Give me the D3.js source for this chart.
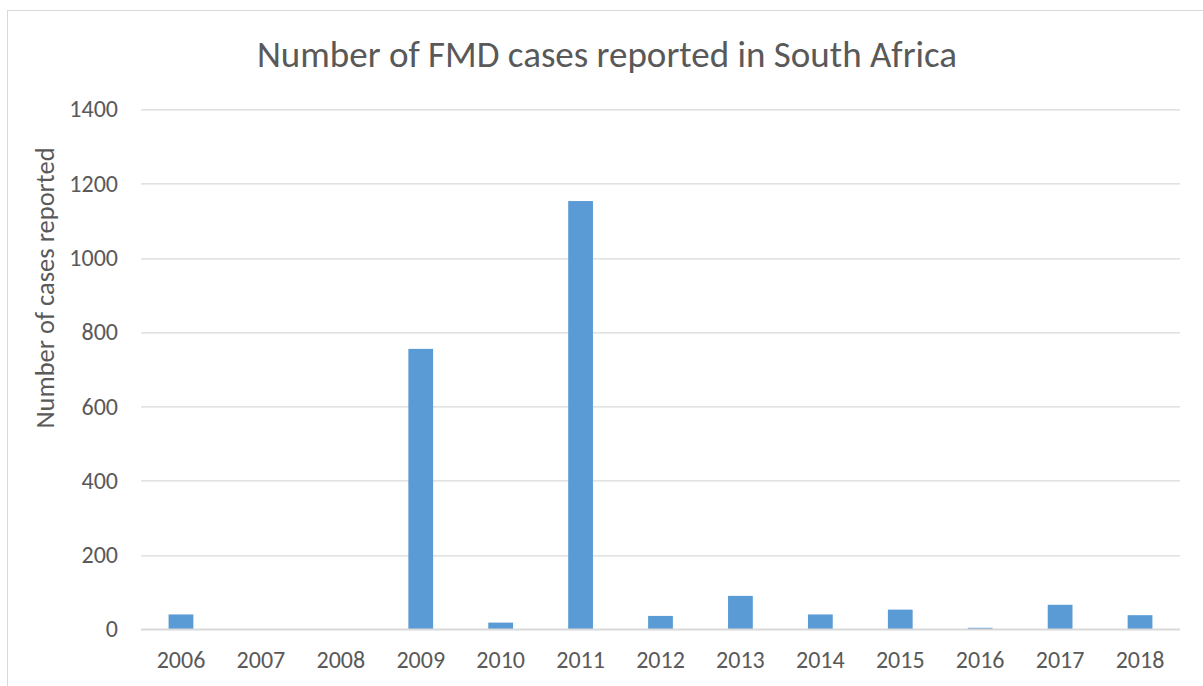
<!DOCTYPE html>
<html>
<head>
<meta charset="utf-8">
<script src="https://cdn.jsdelivr.net/npm/d3@7"></script>
<style>
  body { margin: 0; background: #fff; }
  svg text { font-family: Carlito, "Open Sans", "Liberation Sans", sans-serif; fill: #595959; }
</style>
</head>
<body>
<div id="chart-container"></div>
<script>
const years = ['2006', '2007', '2008', '2009', '2010', '2011', '2012', '2013', '2014', '2015', '2016', '2017', '2018'];
const cases = [40, 0, 0, 755, 18, 1153, 36, 90, 40, 53, 4, 66, 38];
const yTicks = [0, 200, 400, 600, 800, 1000, 1200, 1400];

const W = 1203, H = 686;
const margin = { top: 109.3, right: 23, bottom: 56.7, left: 141 };
const width = W - margin.left - margin.right;
const height = H - margin.top - margin.bottom;

const root = d3.select("#chart-container")
    .append("svg")
    .attr("width", W)
    .attr("height", H);

// chart frame
root.append("rect")
    .attr("x", 7.5).attr("y", 10.5)
    .attr("width", 1200).attr("height", 690)
    .attr("fill", "none")
    .attr("stroke", "#d9d9d9");

root.append("text")
    .attr("x", 607)
    .attr("y", 67)
    .attr("text-anchor", "middle")
    .style("font-size", "37px")
    .text("Number of FMD cases reported in South Africa");

const svg = root.append("g")
    .attr("transform", `translate(${margin.left},${margin.top})`);

const x = d3.scaleBand()
    .domain(years)
    .range([0, width])
    .paddingInner(0.69)
    .paddingOuter(0.345);

const y = d3.scaleLinear()
    .domain([0, 1400])
    .range([height, 0]);

// gridlines
svg.append("g")
    .selectAll("line")
    .data(yTicks)
    .enter().append("line")
    .attr("x1", 0).attr("x2", width)
    .attr("y1", d => Math.round(y(d)) + 0.5)
    .attr("y2", d => Math.round(y(d)) + 0.5)
    .attr("stroke", "#d9d9d9")
    .attr("stroke-width", 1.3);

svg.selectAll(".bar")
    .data(years.map((yr, i) => ({ year: yr, value: cases[i] })))
    .enter().append("rect")
    .attr("class", "bar")
    .attr("x", d => x(d.year))
    .attr("width", x.bandwidth())
    .attr("y", d => y(d.value))
    .attr("height", d => height - y(d.value))
    .attr("fill", "#5b9bd5");

// baseline
svg.append("line")
    .attr("x1", 0).attr("x2", width)
    .attr("y1", height).attr("y2", height)
    .attr("stroke", "#d9d9d9")
    .attr("stroke-width", 1.5);

const yAxis = svg.append("g")
    .call(d3.axisLeft(y).tickValues(yTicks).tickFormat(d3.format("d")).tickSize(0).tickPadding(23));
yAxis.select(".domain").remove();
yAxis.selectAll("text")
    .style("font-size", "24px")
    .attr("fill", "#595959");

const xAxis = svg.append("g")
    .attr("transform", `translate(0,${height})`)
    .call(d3.axisBottom(x).tickSize(0).tickPadding(22));
xAxis.select(".domain").remove();
xAxis.selectAll("text")
    .style("font-size", "24px")
    .attr("fill", "#595959");

svg.append("text")
    .attr("text-anchor", "middle")
    .attr("transform", "rotate(-90)")
    .attr("x", -(288 - margin.top))
    .attr("y", -margin.left + 54)
    .style("font-size", "26.5px")
    .text("Number of cases reported");
</script>
</body>
</html>
